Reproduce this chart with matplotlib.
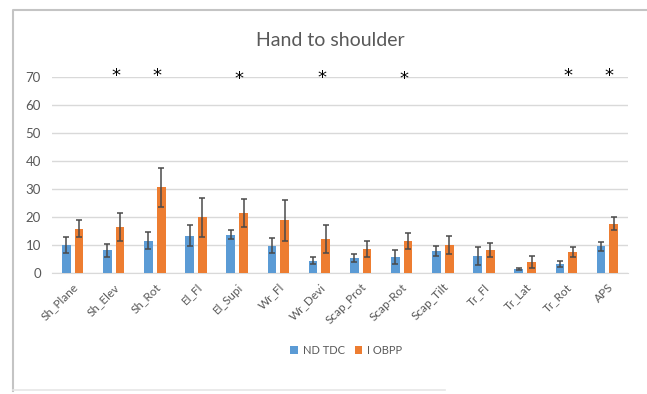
import numpy as np
import matplotlib.pyplot as plt
from matplotlib.lines import Line2D

plt.rcParams['font.family'] = ['Lato', 'DejaVu Sans']

# data
categories = ['Sh_Plane', 'Sh_Elev', 'Sh_Rot', 'El_Fl', 'El_Supi', 'Wr_Fl', 'Wr_Devi',
              'Scap_Prot', 'Scap-Rot', 'Scap_Tilt', 'Tr_Fl', 'Tr_Lat', 'Tr_Rot', 'APS']
nd_tdc = [10.0, 8.1, 11.5, 13.3, 13.7, 9.8, 4.4, 5.4, 5.7, 7.7, 6.0, 1.5, 3.2, 9.5]
nd_tdc_err = [3.0, 2.4, 3.0, 3.7, 1.7, 2.7, 1.2, 1.4, 2.4, 1.8, 3.3, 0.3, 1.2, 1.5]
i_obpp = [15.8, 16.4, 30.6, 19.9, 21.4, 18.9, 12.1, 8.7, 11.5, 10.1, 8.1, 3.9, 7.5, 17.6]
i_obpp_err = [3.0, 5.0, 7.0, 7.0, 5.0, 7.3, 4.9, 2.9, 2.8, 3.2, 2.5, 2.1, 1.7, 2.3]
star_cats = ['Sh_Elev', 'Sh_Rot', 'El_Supi', 'Wr_Devi', 'Scap-Rot', 'Tr_Rot', 'APS']
star_y = [70.3, 70.3, 69.3, 69.6, 69.3, 70.5, 70.5]

blue = '#5B9BD5'
orange = '#ED7D31'
grey_txt = '#595959'

fig = plt.figure(figsize=(6.47, 3.94), dpi=100)
ax = fig.add_axes([0.0804, 0.3071, 0.8902, 0.4975])

# chart border of the cropped screenshot: left + top, faint bottom piece
W, H = 647, 394
fig.lines.append(Line2D([13 / W, 13 / W, 1.0], [1 - 391 / H, 1 - 10 / H, 1 - 10 / H],
                        transform=fig.transFigure, color='#c4c4c4', linewidth=1.5))
fig.lines.append(Line2D([13 / W, 445 / W], [1 - 390 / H, 1 - 390 / H],
                        transform=fig.transFigure, color='#e6e6e6', linewidth=1.2))

x = np.arange(len(categories))
w = 0.21
ekw = dict(ecolor='#4a4a4a', elinewidth=1.1, capsize=2.5, capthick=1.1)
ax.bar(x - 0.155, nd_tdc, w, yerr=nd_tdc_err, color=blue, label='ND TDC',
       error_kw=ekw, zorder=3)
ax.bar(x + 0.155, i_obpp, w, yerr=i_obpp_err, color=orange, label='I OBPP',
       error_kw=ekw, zorder=3)

for c, sy in zip(star_cats, star_y):
    ax.text(categories.index(c) + 0.05, sy, '*', ha='center', va='center',
            fontsize=13, color='black', family='DejaVu Sans', clip_on=False)

ax.set_xlim(-0.5, len(categories) - 0.5)
ax.set_ylim(0, 70)
ax.set_yticks(range(0, 71, 10))
ax.yaxis.grid(True, color='#d9d9d9', linewidth=1)
ax.set_axisbelow(True)
for s in ['top', 'right', 'left']:
    ax.spines[s].set_visible(False)
ax.spines['bottom'].set_color('#d9d9d9')
ax.tick_params(axis='both', length=0, colors=grey_txt)
ax.tick_params(axis='y', labelsize=9.5, pad=8)
ax.set_xticks(x)
ax.set_xticklabels(categories, rotation=45, ha='right', rotation_mode='anchor',
                   fontsize=8.5, color=grey_txt)
ax.tick_params(axis='x', pad=6)

fig.text(0.51, 1 - 40 / 394, 'Hand to shoulder', ha='center', va='center',
         fontsize=14, color=grey_txt)

fig.legend(loc='center', bbox_to_anchor=(0.535, 1 - 350 / 394), ncol=2,
           frameon=False, fontsize=8, handlelength=0.7, handleheight=0.7,
           columnspacing=0.9, handletextpad=0.4, labelcolor=grey_txt)

fig.savefig('out.png', dpi=100)
